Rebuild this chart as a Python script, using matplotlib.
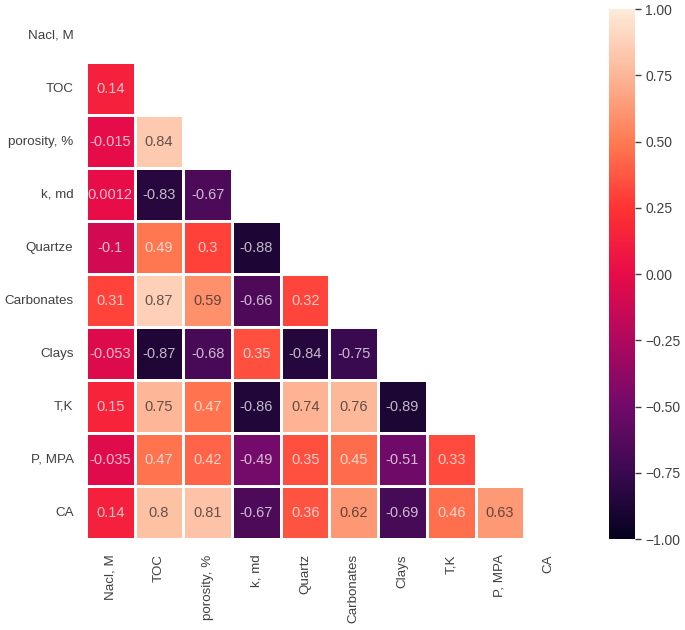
import numpy as np
import pandas as pd
import matplotlib
matplotlib.use("Agg")
import matplotlib.pyplot as plt
import matplotlib.colors as mcolors
import seaborn as sns

# Row labels (y axis) and column labels (x axis) differ slightly in the source
row_labels = ["Nacl, M", "TOC", "porosity, %", "k, md", "Quartze", "Carbonates",
              "Clays", "T,K", "P, MPA", "CA"]
col_labels = ["Nacl, M", "TOC", "porosity, %", "k, md", "Quartz", "Carbonates",
              "Clays", "T,K", "P, MPA", "CA"]

# lower-triangle correlation values, one list per row
r_toc = [0.14]
r_porosity = [-0.015, 0.84]
r_k = [0.0012, -0.83, -0.67]
r_quartz = [-0.1, 0.49, 0.3, -0.88]
r_carb = [0.31, 0.87, 0.59, -0.66, 0.32]
r_clays = [-0.053, -0.87, -0.68, 0.35, -0.84, -0.75]
r_tk = [0.15, 0.75, 0.47, -0.86, 0.74, 0.76, -0.89]
r_p = [-0.035, 0.47, 0.42, -0.49, 0.35, 0.45, -0.51, 0.33]
r_ca = [0.14, 0.8, 0.81, -0.67, 0.36, 0.62, -0.69, 0.46, 0.63]

lower_rows = [r_toc, r_porosity, r_k, r_quartz, r_carb, r_clays, r_tk, r_p, r_ca]

n = len(row_labels)
corr = np.eye(n)
for i, vals in enumerate(lower_rows, start=1):
    for j, v in enumerate(vals):
        corr[i, j] = v
        corr[j, i] = v

df = pd.DataFrame(corr, index=row_labels, columns=col_labels)
mask = np.triu(np.ones_like(corr, dtype=bool))

# rocket-like map, matched to the (more saturated) colours of the reference bar
cmap_colors = ["#04021e", "#3a0a50", "#720a6a", "#b0085e", "#e80c48",
               "#ff3232", "#ff7a52", "#fdb596", "#fdebd9"]
cmap = mcolors.LinearSegmentedColormap.from_list("rocket_vivid", cmap_colors)

sns.set_style("white")
plt.rcParams["font.family"] = ["Liberation Sans", "DejaVu Sans"]

fig = plt.figure(figsize=(6.85, 6.3), dpi=100)
ax = fig.add_axes([0.1255, 0.1444, 0.711, 0.8413])
cax = fig.add_axes([0.889, 0.1444, 0.038, 0.8413])

sns.heatmap(df, mask=mask, vmin=-1, vmax=1, cmap=cmap, annot=True, fmt=".2g",
            linewidths=0.8, linecolor="white", ax=ax, cbar_ax=cax,
            annot_kws={"fontsize": 10.5})

# annotation text is slightly see-through in the reference (tinted by the cell)
for t in ax.texts:
    t.set_alpha(0.72)

ax.tick_params(length=0, labelsize=9.6, colors="#404040")
ax.tick_params(axis="y", pad=9)
ax.tick_params(axis="x", pad=11)
plt.setp(ax.get_yticklabels(), rotation=0)
plt.setp(ax.get_xticklabels(), rotation=90)
cax.tick_params(length=4, width=1, labelsize=10, colors="#404040")
cax.set_yticks([-1, -0.75, -0.5, -0.25, 0, 0.25, 0.5, 0.75, 1])
cax.set_yticklabels(["\u22121.00", "\u22120.75", "\u22120.50", "\u22120.25", "0.00",
                     "0.25", "0.50", "0.75", "1.00"])

fig.savefig("out.png", dpi=100)
